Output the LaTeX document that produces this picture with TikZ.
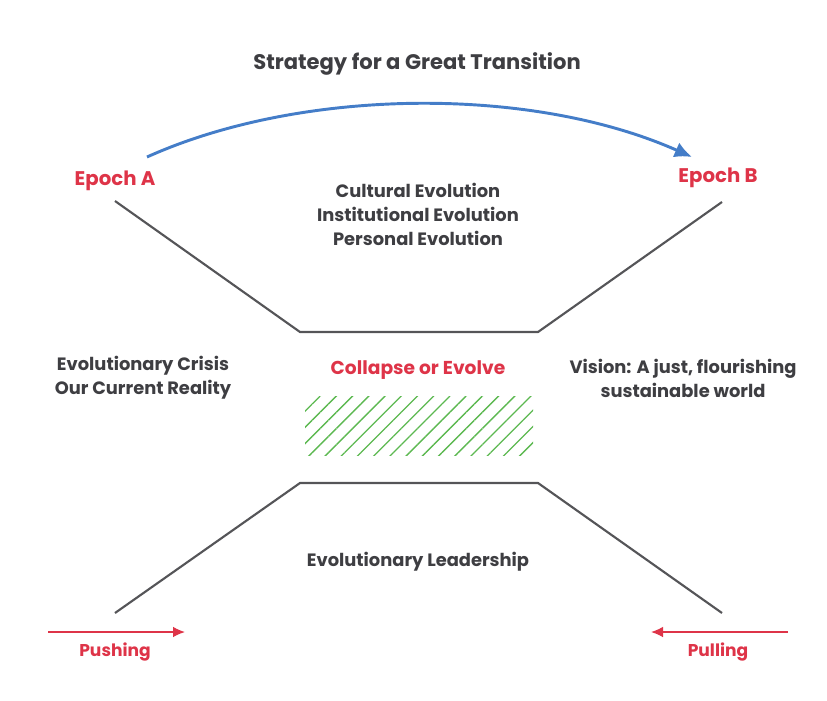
\documentclass[tikz,border=0pt]{standalone}
\usepackage{fontspec}
\setmainfont{Poppins}
\usetikzlibrary{arrows,arrows.meta,calc,patterns.meta,positioning}
\definecolor{txtgray}{RGB}{62,62,66}
\definecolor{linegray}{RGB}{85,85,88}
\definecolor{epochred}{RGB}{222,52,72}
\definecolor{arcblue}{RGB}{68,125,200}
\definecolor{hatchgreen}{RGB}{92,184,80}
\tikzset{every picture/.style={
  >=latex'                      % LaTeX style arrows.
  }
}

\begin{document}
\begin{tikzpicture}[
        x=0.75pt, y=-0.75pt,
        lbl/.style={
          text=txtgray,
          font=\bfseries\fontsize{13.4}{18}\selectfont,
          align=center,
          inner sep=0pt
        },
        redlbl/.style={
          lbl,
          text=epochred
        },
        wall/.style={
          draw=linegray,
          line width=1.6pt
        },
        push/.style={
          draw=epochred,
          line width=1.1pt,
          -{Latex[length=9pt,width=8pt]}
        }]

        % Frame.
        \useasboundingbox (0,0) rectangle (827,700);

        % Title.
        \node[lbl,font=\bfseries\fontsize{15.8}{18}\selectfont] (title) at (417,64)
          {Strategy for a Great Transition};

        % Epochs and the arc between them.
        \node[redlbl,font=\bfseries\fontsize{14.8}{18}\selectfont] (epochA) at (115,181) {Epoch A};
        \node[redlbl,font=\bfseries\fontsize{14.8}{18}\selectfont] (epochB) at (718,178) {Epoch B};
        \coordinate (arcS) at (147,157);
        \coordinate (arcE) at (692,157);
        \draw[arcblue,line width=2.2pt,-{Latex[length=13pt,width=12pt]}] (arcS)
          .. controls (300,88) and (530,85) .. (arcE);

        % Upper funnel.
        \coordinate (uL) at (115,201);
        \coordinate (uBL) at (300,332);
        \coordinate (uBR) at (538,332);
        \coordinate (uR) at (722,202);
        \draw[wall] (uL) -- (uBL) -- (uBR) -- (uR);

        \node[lbl] (cult) at (418,190) {Cultural Evolution};
        \node[lbl] (inst) at (418,214) {Institutional Evolution};
        \node[lbl] (pers) at (418,238) {Personal Evolution};

        % Middle row.
        \node[lbl] (crisis) at (143,378) {Evolutionary Crisis\\Our Current Reality};
        \node[redlbl,font=\bfseries\fontsize{14}{18}\selectfont] (collapse) at (418,370) {Collapse or Evolve};
        \node[lbl] (vision) at (683,378) {Vision: A just, flourishing\\sustainable world};

        % Hatched gap.
        \node[minimum width=171pt,minimum height=44.25pt,inner sep=0pt,
          pattern={Lines[angle=45,distance=8.6pt,line width=1pt]},
          pattern color=hatchgreen] (gap) at (419,425.5) {};

        % Lower funnel.
        \coordinate (lL) at (115,613);
        \coordinate (lTL) at (300,483);
        \coordinate (lTR) at (538,483);
        \coordinate (lR) at (722,613);
        \draw[wall] (lL) -- (lTL) -- (lTR) -- (lR);

        \node[lbl] (lead) at (418,562) {Evolutionary Leadership};

        % Push and pull.
        \coordinate (pushS) at (48,632);
        \coordinate (pushE) at (185,632);
        \coordinate (pullS) at (788,632);
        \coordinate (pullE) at (651,632);
        \draw[push] (pushS) -- (pushE);
        \draw[push] (pullS) -- (pullE);
        \node[redlbl,font=\bfseries\fontsize{12.8}{18}\selectfont] (pushing) at (115,652) {Pushing};
        \node[redlbl,font=\bfseries\fontsize{12.8}{18}\selectfont] (pulling) at (718,652) {Pulling};
      \end{tikzpicture}
\end{document}
